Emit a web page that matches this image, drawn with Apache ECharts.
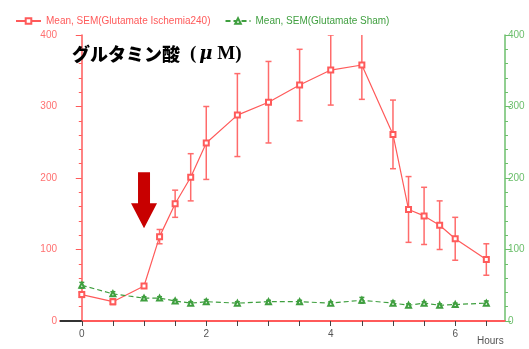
<!DOCTYPE html>
<html>
<head>
<meta charset="utf-8">
<script src="https://cdn.jsdelivr.net/npm/echarts@6/dist/echarts.min.js"></script>
<style>
  html, body { margin: 0; padding: 0; background: #fff; }
  #chart { width: 529px; height: 349px; }
</style>
</head>
<body>
<div id="chart"></div>
<script>
// Sampling times (hours)
const hours = [0, 0.5, 1, 1.25, 1.5, 1.75, 2, 2.5, 3, 3.5, 4, 4.5, 5, 5.25, 5.5, 5.75, 6, 6.5];

// Glutamate, ischemia 240 group: mean and SEM
const ischemiaMean = [37, 27, 49, 118, 164, 201, 249, 288, 306, 330, 351, 358, 261, 156, 147, 134, 115, 86];
const ischemiaSem  = [4, 4, 3, 10, 19, 33, 51, 58, 57, 50, 49, 48, 48, 46, 40, 34, 30, 22];

// Glutamate, sham group: mean and SEM
const shamMean = [50, 38, 32, 32, 28, 25, 27, 25, 27, 27, 25, 29, 25, 22, 25, 22, 23, 25];
const shamSem  = [4, 3, 2, 2, 2, 2, 3, 2, 2, 2, 2, 4, 3, 2, 2, 2, 2, 3];

// Axis ticks and labels
const xTickValues  = [0, 0.5, 1, 1.5, 2, 2.5, 3, 3.5, 4, 4.5, 5, 5.5, 6, 6.5];
const xLabelValues = [0, 2, 4, 6];
const xMin = -0.35, xMax = 6.8;

// Time at which the arrow marks the change of condition, and its height
const arrowAt = [1.0, 169];

const RED = '#ff5a5a';
const RED_LABEL = '#ff7070';
const GREEN = '#3f9f3f';
const GREEN_AXIS = '#6cbf6c';

const ischemiaName = 'Mean, SEM(Glutamate Ischemia240)';
const shamName = 'Mean, SEM(Glutamate Sham)';

function pairs(xs, ys) { return xs.map((x, i) => [x, ys[i]]); }
function bars(xs, m, s) { return xs.map((x, i) => [x, m[i] - s[i], m[i] + s[i]]); }

function errorBarRenderer(color, cap) {
  return function (params, api) {
    const x = api.value(0);
    const top = api.coord([x, api.value(2)]);
    const bot = api.coord([x, api.value(1)]);
    const style = { stroke: color, lineWidth: 1.5 };
    return {
      type: 'group',
      children: [
        { type: 'line', shape: { x1: top[0], y1: top[1], x2: bot[0], y2: bot[1] }, style: style },
        { type: 'line', shape: { x1: top[0] - cap, y1: top[1], x2: top[0] + cap, y2: top[1] }, style: style },
        { type: 'line', shape: { x1: bot[0] - cap, y1: bot[1], x2: bot[0] + cap, y2: bot[1] }, style: style }
      ]
    };
  };
}

const chart = echarts.init(document.getElementById('chart'), null, { renderer: 'canvas' });

const axisFont = 'Liberation Sans, Arial, sans-serif';

chart.setOption({
  animation: false,
  backgroundColor: '#fff',
  title: {
    left: 67,
    top: 40,
    text: '{a|グルタミン酸}  {b|(}{c|μ}{b| M)}',
    textStyle: {
      rich: {
        a: { fontFamily: 'Noto Sans CJK JP', fontWeight: 900, fontSize: 18, color: '#000' },
        b: { fontFamily: 'Liberation Serif, serif', fontWeight: 'bold', fontSize: 19, color: '#000' },
        c: { fontFamily: 'DejaVu Serif, serif', fontWeight: 'bold', fontStyle: 'italic', fontSize: 18, color: '#000', padding: [0, 0, 0, 3] }
      }
    }
  },
  legend: {
    left: 10,
    top: 11,
    itemWidth: 25,
    itemHeight: 7,
    itemGap: 14,
    textStyle: { fontFamily: axisFont, fontSize: 10 },
    data: [
      { name: ischemiaName, textStyle: { color: RED } },
      { name: shamName, textStyle: { color: GREEN } }
    ]
  },
  grid: { left: 60, right: 24, top: 35, bottom: 28 },
  xAxis: {
    type: 'value',
    min: xMin,
    max: xMax,
    splitLine: { show: false },
    axisLine: { onZero: false, lineStyle: { color: RED, width: 2 } },
    axisTick: { customValues: xTickValues, length: 5, lineStyle: { color: '#444' } },
    axisLabel: { customValues: xLabelValues, color: '#555', fontFamily: axisFont, fontSize: 10, margin: 8 }
  },
  yAxis: [
    {
      type: 'value', min: 0, max: 400, interval: 100, position: 'left',
      splitLine: { show: false },
      axisLine: { show: true, lineStyle: { color: RED, width: 1.5 } },
      axisTick: { show: true, length: 6, lineStyle: { color: RED } },
      minorTick: { show: true, splitNumber: 5, length: 3, lineStyle: { color: RED } },
      axisLabel: { color: RED_LABEL, fontFamily: axisFont, fontSize: 10, margin: 3 }
    },
    {
      type: 'value', min: 0, max: 400, interval: 100, position: 'right',
      splitLine: { show: false },
      axisLine: { show: true, lineStyle: { color: GREEN_AXIS, width: 1.5 } },
      axisTick: { show: true, length: 6, lineStyle: { color: GREEN_AXIS } },
      minorTick: { show: true, splitNumber: 5, length: 3, lineStyle: { color: GREEN_AXIS } },
      axisLabel: { color: GREEN_AXIS, fontFamily: axisFont, fontSize: 10, margin: 3 }
    }
  ],
  graphic: [
    { type: 'text', left: 477, top: 336, style: { text: 'Hours', fill: '#555', font: '10px Liberation Sans, Arial, sans-serif' } }
  ],
  series: [
    {
      name: ischemiaName,
      type: 'line',
      yAxisIndex: 0,
      data: pairs(hours, ischemiaMean),
      symbol: 'emptyRect',
      symbolSize: 5,
      lineStyle: { color: RED, width: 1.2 },
      itemStyle: { color: RED, borderWidth: 1.2 },
      z: 4,
      markLine: {
        silent: true,
        symbol: 'none',
        lineStyle: { color: '#333', width: 2, type: 'solid' },
        label: { show: false },
        data: [[{ coord: [xMin, 0] }, { coord: [0, 0] }]]
      },
      markPoint: {
        silent: true,
        symbol: 'path://M7,0 L19,0 L19,31 L26,31 L13,56 L0,31 L7,31 Z',
        symbolSize: [26, 56],
        itemStyle: { color: '#c80000' },
        label: { show: false },
        data: [{ coord: arrowAt }]
      }
    },
    {
      name: ischemiaName + ' SEM',
      type: 'custom',
      yAxisIndex: 0,
      clip: true,
      data: bars(hours, ischemiaMean, ischemiaSem),
      renderItem: errorBarRenderer('#ff6b6b', 3),
      z: 3
    },
    {
      name: shamName,
      type: 'line',
      yAxisIndex: 1,
      data: pairs(hours, shamMean),
      symbol: 'emptyTriangle',
      symbolSize: 5,
      lineStyle: { color: GREEN, width: 1.2, type: [5, 3] },
      itemStyle: { color: GREEN, borderWidth: 1.3 },
      z: 4
    },
    {
      name: shamName + ' SEM',
      type: 'custom',
      yAxisIndex: 1,
      clip: true,
      data: bars(hours, shamMean, shamSem),
      renderItem: errorBarRenderer(GREEN, 2.5),
      z: 3
    }
  ]
});
</script>
</body>
</html>
